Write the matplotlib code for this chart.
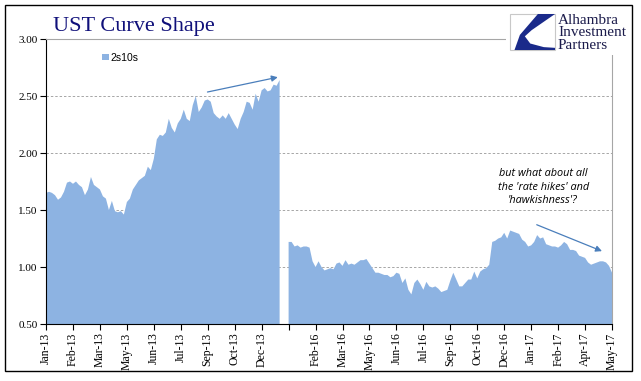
import numpy as np
import matplotlib
matplotlib.use('Agg')
import matplotlib.pyplot as plt
from matplotlib.patches import Rectangle, Polygon

# 2s10s spread, sampled roughly every 3 trading days
spread_2013 = [
    1.65, 1.66, 1.65, 1.63, 1.59, 1.61, 1.66, 1.74, 1.75, 1.73,
    1.75, 1.72, 1.70, 1.63, 1.68, 1.79, 1.72, 1.70, 1.68, 1.62,
    1.60, 1.50, 1.58, 1.49, 1.48, 1.49, 1.46, 1.57, 1.60, 1.68,
    1.72, 1.76, 1.78, 1.80, 1.88, 1.85, 1.95, 2.12, 2.16, 2.15,
    2.18, 2.30, 2.22, 2.18, 2.26, 2.30, 2.38, 2.30, 2.28, 2.42,
    2.50, 2.36, 2.40, 2.46, 2.47, 2.45, 2.35, 2.32, 2.30, 2.33,
    2.30, 2.35, 2.30, 2.25, 2.21, 2.30, 2.36, 2.45, 2.44, 2.38,
    2.52, 2.45, 2.55, 2.57, 2.54, 2.55, 2.60, 2.59, 2.64,
]
gap_points = 2
spread_2016 = [
    1.22, 1.22, 1.18, 1.19, 1.17, 1.18, 1.18, 1.17, 1.05, 1.00,
    1.05, 1.00, 0.97, 0.98, 0.99, 0.98, 1.03, 1.04, 1.01, 1.06,
    1.02, 1.03, 1.02, 1.04, 1.06, 1.06, 1.07, 1.03, 0.99, 0.95,
    0.95, 0.94, 0.93, 0.93, 0.91, 0.92, 0.95, 0.94, 0.86, 0.90,
    0.80, 0.76, 0.86, 0.89, 0.85, 0.80, 0.87, 0.83, 0.82, 0.83,
    0.81, 0.78, 0.79, 0.80, 0.88, 0.95, 0.89, 0.83, 0.83, 0.86,
    0.89, 0.89, 0.96, 0.90, 0.96, 0.98, 0.99, 1.02, 1.22, 1.23,
    1.25, 1.26, 1.30, 1.25, 1.32, 1.31, 1.30, 1.29, 1.24, 1.22,
    1.18, 1.19, 1.22, 1.28, 1.25, 1.26, 1.20, 1.19, 1.18, 1.18,
    1.17, 1.19, 1.22, 1.20, 1.15, 1.15, 1.14, 1.10, 1.09, 1.08,
    1.04, 1.02, 1.03, 1.04, 1.05, 1.05, 1.04, 1.01, 0.95,
]
tick_labels = ['Jan-13', 'Feb-13', 'Mar-13', 'May-13', 'Jun-13', 'Jul-13',
               'Sep-13', 'Oct-13', 'Dec-13', '', 'Feb-16', 'Mar-16', 'May-16',
               'Jun-16', 'Jul-16', 'Sep-16', 'Oct-16', 'Dec-16', 'Jan-17',
               'Feb-17', 'Apr-17', 'May-17']
tick_every = 9

y = np.array(spread_2013 + [np.nan] * gap_points + spread_2016)
x = np.arange(len(y))

fill_col = '#8db3e2'
arrow_col = '#4a7ebb'
navy = '#10107a'

fig = plt.figure(figsize=(6.41, 3.81), dpi=100)
ax = fig.add_axes([0.0718, 0.1496, 0.883, 0.748])

ax.fill_between(x, 0.5, y, color=fill_col, lw=0, zorder=2, label='2s10s')

ax.set_xlim(0, len(y) - 1)
ax.set_ylim(0.5, 3.0)
ax.set_yticks([0.5, 1.0, 1.5, 2.0, 2.5, 3.0])
ax.set_yticklabels(['%.2f' % v for v in [0.5, 1.0, 1.5, 2.0, 2.5, 3.0]],
                   family='Liberation Serif', fontsize=8)
ax.set_xticks(np.arange(len(tick_labels)) * tick_every)
ax.set_xticklabels(tick_labels, rotation=90, family='Liberation Serif', fontsize=8.5)
ax.tick_params(axis='both', direction='out', length=4, width=0.8, pad=2)

for v in [1.0, 1.5, 2.0, 2.5]:
    ax.axhline(v, color='#a6a6a6', lw=0.7, ls=(0, (2.5, 2)), zorder=1)

ax.spines['left'].set_color('black')
ax.spines['bottom'].set_color('black')
ax.spines['top'].set_color('#a6a6a6')
ax.spines['right'].set_color('#a6a6a6')
for s in ['top', 'right']:
    ax.spines[s].set_linewidth(0.8)

ax.legend(loc='upper left', bbox_to_anchor=(0.083, 0.985), frameon=False,
          handlelength=0.6, handleheight=0.6, handletextpad=0.2,
          prop={'family': 'Liberation Sans', 'size': 7.5})

ax.annotate('', xy=(78.3, 2.67), xytext=(53, 2.53),
            arrowprops=dict(arrowstyle='-|>', color=arrow_col, lw=0.9,
                            mutation_scale=9), zorder=5)
ax.annotate('', xy=(186.5, 1.13), xytext=(163, 1.38),
            arrowprops=dict(arrowstyle='-|>', color=arrow_col, lw=0.9,
                            mutation_scale=9), zorder=5)
ax.text(166, 1.70, "but what about all\nthe 'rate hikes' and\n'hawkishness'?",
        ha='center', va='center', style='italic', fontsize=7.8,
        family='Open Sans', linespacing=1.3, zorder=5)

# title
fig.text(53 / 641, 1 - 31 / 381, 'UST Curve Shape', family='Liberation Serif',
         fontsize=16, color=navy, va='baseline', ha='left')

# logo area (covers the frame corner)
fig.patches.append(Rectangle((506 / 641, 1 - 55 / 381), 112 / 641, 50 / 381,
                             transform=fig.transFigure, facecolor='white',
                             edgecolor='none', zorder=5))
fig.patches.append(Rectangle((510 / 641, 1 - 50 / 381), 45 / 641, 36 / 381,
                             transform=fig.transFigure, facecolor='white',
                             edgecolor='#c8c8c8', lw=0.8, zorder=6))
bx, by, bw, bh = 510 / 641, 1 - 50 / 381, 45 / 641, 36 / 381
shape = [(0.62, 1.0), (1.0, 1.0), (0.48, 0.55), (0.33, 0.38), (0.45, 0.18),
         (0.75, 0.08), (1.0, 0.06), (1.0, 0.0), (0.1, 0.0), (0.22, 0.42)]
fig.patches.append(Polygon([(bx + px * bw, by + py * bh) for px, py in shape],
                           closed=True, transform=fig.transFigure,
                           facecolor='#1a2a8a', edgecolor='none', zorder=7))
for i, word in enumerate(['Alhambra', 'Investment', 'Partners']):
    fig.text(558 / 641, 1 - (24 + 12.5 * i) / 381, word, family='Liberation Serif',
             fontsize=11, color='#1b1b4b', va='baseline', ha='left', zorder=8)

# outer frame
fig.patches.append(Rectangle((5 / 641, 10 / 381), 627 / 641, 366 / 381,
                             transform=fig.transFigure, fill=False,
                             edgecolor='black', lw=1.0, zorder=9))

fig.savefig('out.png', dpi=100)
